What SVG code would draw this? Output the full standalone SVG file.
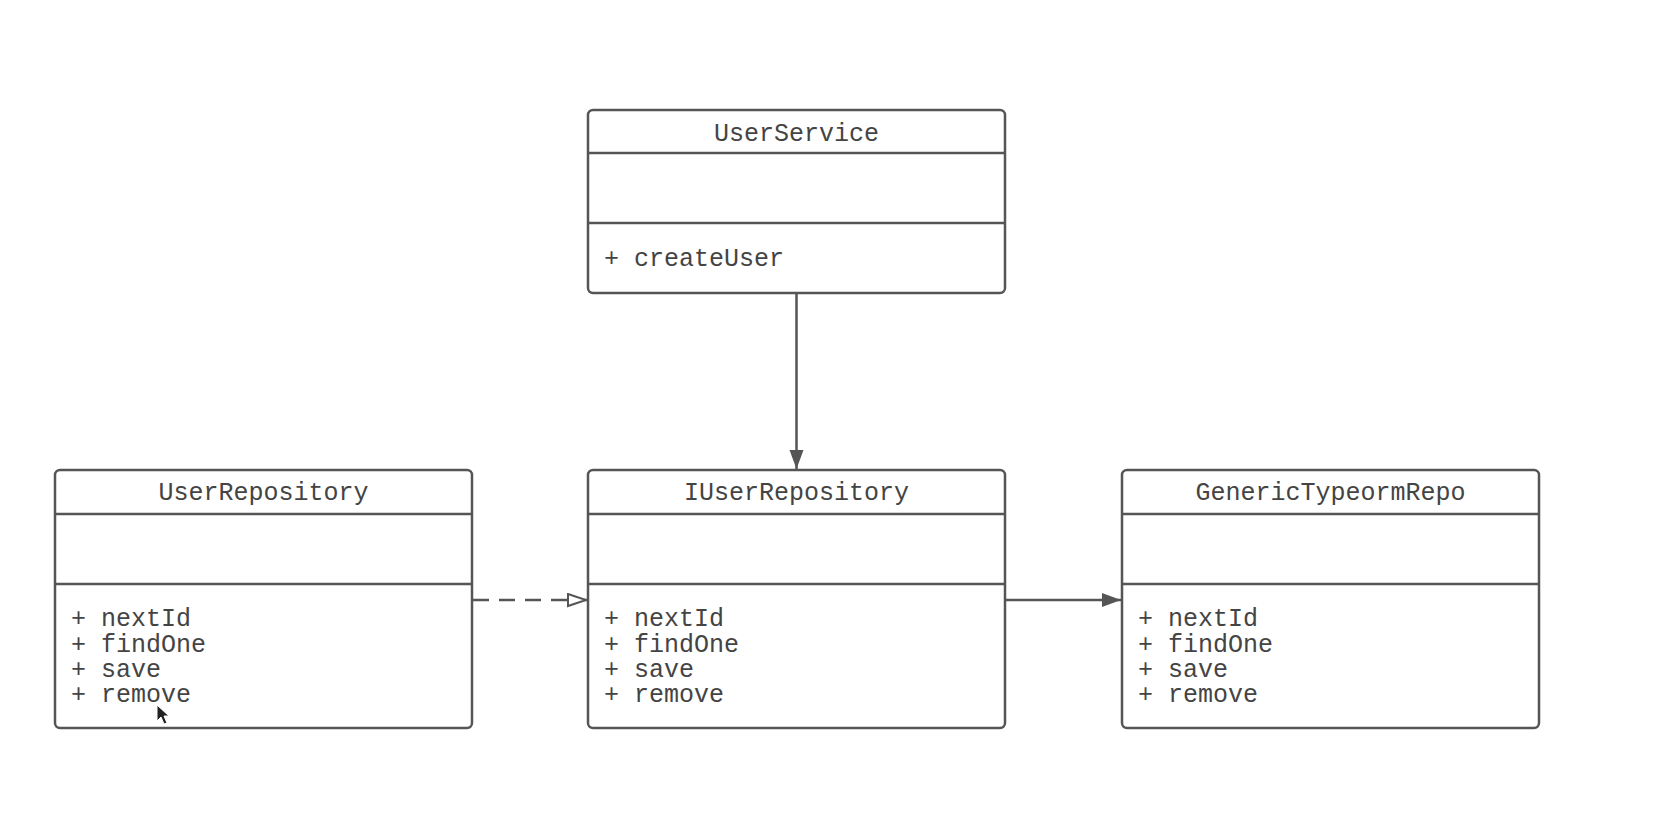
<svg xmlns="http://www.w3.org/2000/svg" width="1653" height="821" viewBox="0 0 1653 821">
<style>
.box{fill:#fff;stroke:#555;stroke-width:2.5}
.div{stroke:#555;stroke-width:2.5}
.t{font-family:"Liberation Mono","DejaVu Sans Mono",monospace;font-size:25px;fill:#444}
.c{text-anchor:middle}
.ln{stroke:#555;stroke-width:2.5;fill:none}
</style>
<defs>
<marker id="filled" markerWidth="20" markerHeight="16" refX="19" refY="7" orient="auto" markerUnits="userSpaceOnUse">
<path d="M0,0 L19,7 L0,14 Z" fill="#555"/>
</marker>
<marker id="hollow" markerWidth="22" markerHeight="16" refX="20" refY="7" orient="auto" markerUnits="userSpaceOnUse">
<path d="M1,1 L19,7 L1,13 Z" fill="#fff" stroke="#555" stroke-width="2"/>
</marker>
</defs>
<rect width="1653" height="821" fill="#fff"/>
<g id="connectors">
<line class="ln" x1="796.5" y1="293" x2="796.5" y2="469" marker-end="url(#filled)"/>
<line class="ln" x1="473" y1="600" x2="587" y2="600" stroke-dasharray="16,10" marker-end="url(#hollow)"/>
<line class="ln" x1="1005" y1="600" x2="1121" y2="600" marker-end="url(#filled)"/>
</g>
<g id="UserService">
<rect class="box" x="588" y="110" width="417" height="183" rx="5"/>
<line class="div" x1="588" y1="153" x2="1005" y2="153"/>
<line class="div" x1="588" y1="223" x2="1005" y2="223"/>
<text class="t c" x="796.5" y="141">UserService</text>
<text class="t" x="604" y="266">+ createUser</text>
</g>
<g id="UserRepository">
<rect class="box" x="55" y="470" width="417" height="258" rx="5"/>
<line class="div" x1="55" y1="514" x2="472" y2="514"/>
<line class="div" x1="55" y1="584" x2="472" y2="584"/>
<text class="t c" x="263.5" y="500">UserRepository</text>
<text class="t" x="71" y="626">+ nextId</text>
<text class="t" x="71" y="651.5">+ findOne</text>
<text class="t" x="71" y="677">+ save</text>
<text class="t" x="71" y="702">+ remove</text>
</g>
<g id="IUserRepository">
<rect class="box" x="588" y="470" width="417" height="258" rx="5"/>
<line class="div" x1="588" y1="514" x2="1005" y2="514"/>
<line class="div" x1="588" y1="584" x2="1005" y2="584"/>
<text class="t c" x="796.5" y="500">IUserRepository</text>
<text class="t" x="604" y="626">+ nextId</text>
<text class="t" x="604" y="651.5">+ findOne</text>
<text class="t" x="604" y="677">+ save</text>
<text class="t" x="604" y="702">+ remove</text>
</g>
<g id="GenericTypeormRepo">
<rect class="box" x="1122" y="470" width="417" height="258" rx="5"/>
<line class="div" x1="1122" y1="514" x2="1539" y2="514"/>
<line class="div" x1="1122" y1="584" x2="1539" y2="584"/>
<text class="t c" x="1330.5" y="500">GenericTypeormRepo</text>
<text class="t" x="1138" y="626">+ nextId</text>
<text class="t" x="1138" y="651.5">+ findOne</text>
<text class="t" x="1138" y="677">+ save</text>
<text class="t" x="1138" y="702">+ remove</text>
</g>
<path d="M157,705 L157,721 L161,717 L164,724 L167,723 L164,716 L169,716 Z" fill="#222" stroke="#fff" stroke-width="1"/>
</svg>
